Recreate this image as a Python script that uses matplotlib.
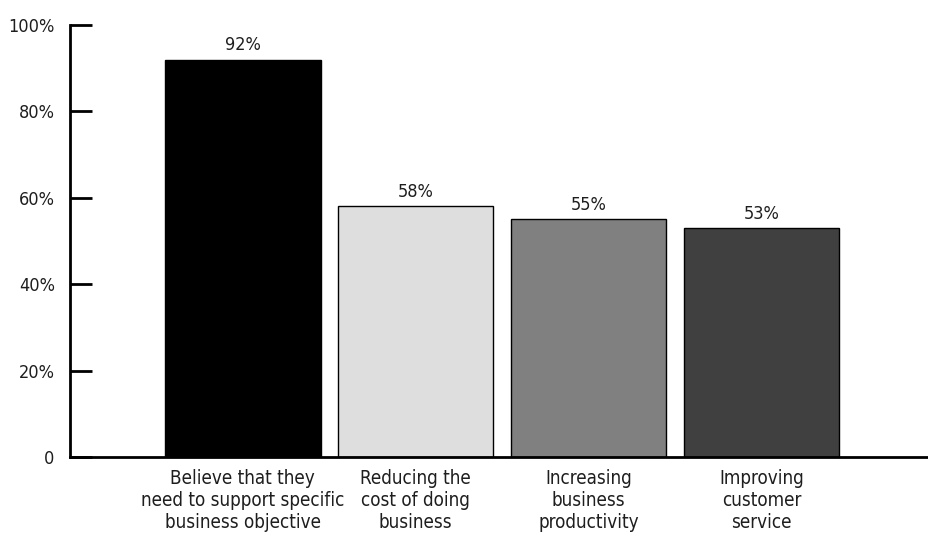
import matplotlib.pyplot as plt
import numpy as np

categories = ["Believe that they\nneed to support specific\nbusiness objective",
              "Reducing the\ncost of doing\nbusiness",
              "Increasing\nbusiness\nproductivity",
              "Improving\ncustomer\nservice"]
values = [92, 58, 55, 53]
bar_colors = ["#000000", "#dedede", "#808080", "#404040"]
y_ticks = [0, 20, 40, 60, 80, 100]
y_tick_labels = ["0", "20%", "40%", "60%", "80%", "100%"]

plt.rcParams['font.family'] = ['DejaVu Sans']
plt.rcParams['font.stretch'] = 'condensed'
text_color = "#1e1e1e"

fig = plt.figure(figsize=(9.29, 5.42), dpi=100)
ax = fig.add_axes([70 / 929, (542 - 457) / 542, 1 - 70 / 929, (457 - 25) / 542])

x = np.arange(len(values))
bars = ax.bar(x, values, width=0.9, color=bar_colors, edgecolor="black", linewidth=1)

for xi, v in zip(x, values):
    ax.text(xi, v + 1.2, f"{v}%", ha="center", va="bottom", fontsize=13, color=text_color)

ax.set_xlim(-1, 3.97)
ax.set_ylim(0, 100)
ax.set_yticks(y_ticks)
ax.set_yticklabels(y_tick_labels, fontsize=13, color=text_color)
ax.tick_params(axis="y", direction="in", length=16, width=2, pad=11)
ax.set_xticks(x)
ax.set_xticklabels(categories, fontsize=13.5, color=text_color, linespacing=1.2)
ax.tick_params(axis="x", length=0, pad=9)

for side in ["top", "right"]:
    ax.spines[side].set_visible(False)
ax.spines["left"].set_linewidth(2)
ax.spines["bottom"].set_linewidth(2)

plt.savefig("out.png", dpi=100)
